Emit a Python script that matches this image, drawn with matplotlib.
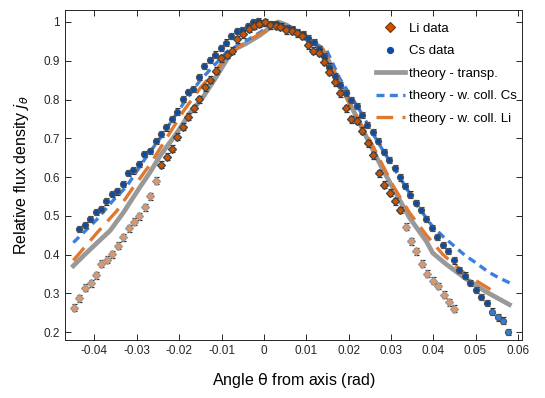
import matplotlib
matplotlib.use("Agg")
import matplotlib.pyplot as plt
import numpy as np

plt.rcParams["font.family"] = ["Liberation Sans", "DejaVu Sans"]

# Li data (angle in rad, relative flux)
li_theta = [-0.0448, -0.0436, -0.0422, -0.0409, -0.0396, -0.0384, -0.0370, -0.0358, -0.0345, -0.0333,
            -0.0319, -0.0307, -0.0294, -0.0281, -0.0268, -0.0255, -0.0242, -0.0229, -0.0217, -0.0204,
            -0.0191, -0.0179, -0.0165, -0.0153, -0.0140, -0.0127, -0.0114, -0.0101, -0.0088, -0.0075,
            -0.0063, -0.0050, -0.0036, -0.0024, -0.0012, 0.0002, 0.0014, 0.0028, 0.0039, 0.0052,
            0.0066, 0.0079, 0.0091, 0.0104, 0.0116, 0.0130, 0.0142, 0.0154, 0.0167, 0.0181,
            0.0193, 0.0207, 0.0219, 0.0232, 0.0245, 0.0258, 0.0271, 0.0284, 0.0297, 0.0310,
            0.0321, 0.0335, 0.0347, 0.0360, 0.0373, 0.0386, 0.0399, 0.0412, 0.0425, 0.0437, 0.0450]
li_flux = [0.263, 0.287, 0.314, 0.326, 0.347, 0.377, 0.387, 0.401, 0.423, 0.445,
           0.468, 0.485, 0.499, 0.522, 0.550, 0.590, 0.632, 0.652, 0.673, 0.704,
           0.730, 0.756, 0.778, 0.801, 0.831, 0.851, 0.874, 0.906, 0.915, 0.926,
           0.955, 0.968, 0.982, 0.990, 0.995, 0.999, 0.992, 0.990, 0.988, 0.979,
           0.977, 0.971, 0.964, 0.940, 0.926, 0.921, 0.898, 0.872, 0.844, 0.816,
           0.778, 0.749, 0.745, 0.719, 0.687, 0.656, 0.610, 0.580, 0.560, 0.537,
           0.515, 0.472, 0.434, 0.409, 0.376, 0.350, 0.333, 0.319, 0.296, 0.277, 0.260]

# Cs data
cs_theta = [-0.0436, -0.0423, -0.0410, -0.0397, -0.0384, -0.0372, -0.0359, -0.0347, -0.0333, -0.0322,
            -0.0308, -0.0295, -0.0282, -0.0269, -0.0255, -0.0243, -0.0230, -0.0217, -0.0204, -0.0192,
            -0.0179, -0.0167, -0.0153, -0.0141, -0.0128, -0.0115, -0.0102, -0.0090, -0.0077, -0.0064,
            -0.0051, -0.0038, -0.0025, -0.0013, 0.0001, 0.0014, 0.0027, 0.0040, 0.0054, 0.0066,
            0.0079, 0.0092, 0.0105, 0.0118, 0.0130, 0.0142, 0.0155, 0.0167, 0.0179, 0.0193,
            0.0205, 0.0219, 0.0231, 0.0244, 0.0257, 0.0270, 0.0283, 0.0296, 0.0309, 0.0321,
            0.0333, 0.0346, 0.0359, 0.0372, 0.0384, 0.0398, 0.0410, 0.0424, 0.0436, 0.0449,
            0.0462, 0.0475, 0.0488, 0.0500, 0.0513, 0.0526, 0.0539, 0.0552, 0.0564, 0.0576]
cs_flux = [0.466, 0.476, 0.492, 0.509, 0.517, 0.537, 0.556, 0.563, 0.582, 0.610,
           0.617, 0.634, 0.660, 0.668, 0.692, 0.711, 0.728, 0.750, 0.769, 0.802,
           0.819, 0.827, 0.859, 0.887, 0.901, 0.916, 0.932, 0.947, 0.964, 0.977,
           0.978, 0.990, 1.000, 1.003, 0.998, 0.995, 0.995, 0.990, 0.984, 0.982,
           0.975, 0.968, 0.958, 0.948, 0.930, 0.912, 0.885, 0.861, 0.838, 0.816,
           0.799, 0.784, 0.760, 0.735, 0.716, 0.693, 0.664, 0.644, 0.624, 0.599,
           0.576, 0.555, 0.533, 0.514, 0.492, 0.469, 0.445, 0.425, 0.409, 0.385,
           0.361, 0.346, 0.327, 0.309, 0.290, 0.276, 0.253, 0.238, 0.230, 0.200]

# theory curves
tr_theta = [-0.0450, -0.0426, -0.0403, -0.0363, -0.0332, -0.0316, -0.0292, -0.0269, -0.0245, -0.0206,
            -0.0175, -0.0143, -0.0112, -0.0088, -0.0072, -0.0041, -0.0009, 0.0014, 0.0034, 0.0054,
            0.0101, 0.0132, 0.0148, 0.0203, 0.0242, 0.0281, 0.0313, 0.0344, 0.0384, 0.0399,
            0.0431, 0.0478, 0.0525, 0.0580]
tr_flux = [0.371, 0.397, 0.421, 0.462, 0.508, 0.535, 0.575, 0.612, 0.655, 0.713,
           0.765, 0.807, 0.859, 0.902, 0.928, 0.945, 0.966, 0.985, 1.000, 0.992,
           0.958, 0.936, 0.911, 0.790, 0.704, 0.619, 0.556, 0.495, 0.434, 0.404,
           0.375, 0.337, 0.304, 0.271]

cs_th_theta = [-0.0450, -0.0395, -0.0355, -0.0324, -0.0277, -0.0245, -0.0190, -0.0150, -0.0120, -0.0085,
               -0.0025, 0.0006, 0.0030, 0.0060, 0.0116, 0.0148, 0.0179, 0.0226, 0.0266, 0.0305,
               0.0360, 0.0396, 0.0423, 0.0474, 0.0502, 0.0529, 0.0557, 0.0583]
cs_th_flux = [0.431, 0.490, 0.541, 0.576, 0.653, 0.700, 0.790, 0.850, 0.885, 0.925,
              0.962, 0.984, 0.995, 0.978, 0.945, 0.928, 0.855, 0.773, 0.696, 0.627,
              0.530, 0.476, 0.447, 0.399, 0.378, 0.356, 0.339, 0.326]

li_th_theta = [-0.0450, -0.0395, -0.0347, -0.0308, -0.0269, -0.0230, -0.0190, -0.0150, -0.0110, -0.0080,
               -0.0040, 0.0000, 0.0030, 0.0060, 0.0100, 0.0140, 0.0180, 0.0220, 0.0260, 0.0305,
               0.0344, 0.0384, 0.0423, 0.0478, 0.0541, 0.0553]
li_th_flux = [0.385, 0.455, 0.513, 0.574, 0.632, 0.700, 0.770, 0.830, 0.880, 0.920,
              0.950, 0.975, 0.995, 0.985, 0.960, 0.930, 0.840, 0.755, 0.675, 0.578,
              0.508, 0.450, 0.400, 0.348, 0.306, 0.301]

LI_C, LI_FAINT = "#cc5200", "#e39563"
CS_C, CS_FAINT = "#0c4ca3", "#2d7ee0"

fig = plt.figure(figsize=(5.45, 3.98), dpi=100)
ax = fig.add_axes([0.119, 0.146, 0.839, 0.829])

ax.plot(tr_theta, tr_flux, color="#999999", lw=3.4, label="theory - transp.", zorder=2)
ax.plot(cs_th_theta, cs_th_flux, color="#3b80e0", lw=2.4, ls=(0, (2.4, 1.6)),
        label="theory - w. coll. Cs", zorder=2)
ax.plot(li_th_theta, li_th_flux, color="#e07830", lw=2.4, ls=(0, (5, 2.8)),
        label="theory - w. coll. Li", zorder=2)

li_t, li_f = np.array(li_theta), np.array(li_flux)
cs_t, cs_f = np.array(cs_theta), np.array(cs_flux)
li_faint = (li_f < 0.6) & (np.abs(li_t) > 0.02) & ~((li_t > 0) & (li_t < 0.033))
cs_faint = cs_t > 0.053

for mask, col, ec in [(~li_faint, LI_C, "#444444"), (li_faint, LI_FAINT, "#9a9a9a")]:
    ax.errorbar(li_t[mask], li_f[mask], yerr=0.009, fmt="D", ms=4.2, mfc=col, mec=ec,
                mew=0.9, ecolor="#333333", elinewidth=0.7, capsize=1.8, capthick=0.7, zorder=4)
for mask, col in [(~cs_faint, CS_C), (cs_faint, CS_FAINT)]:
    ax.errorbar(cs_t[mask], cs_f[mask], yerr=0.008, fmt="o", ms=4.4, mfc=col, mec="#555555",
                mew=0.8, ecolor="#333333", elinewidth=0.7, capsize=1.8, capthick=0.7, zorder=3)

# legend proxies
h_li, = ax.plot([], [], "D", ms=4.6, mfc=LI_C, mec="#7a3000", mew=0.8)
h_cs, = ax.plot([], [], "o", ms=4.4, mfc=CS_C, mec=CS_C, mew=0.8)
hl = ax.get_legend_handles_labels()[0][:3]
ax.legend([h_li, h_cs] + hl, ["Li data", "Cs data", "theory - transp.", "theory - w. coll. Cs",
                              "theory - w. coll. Li"],
          loc="upper right", frameon=False, fontsize=9.5, handlelength=2.2, handletextpad=0.3,
          labelspacing=0.78, borderaxespad=0.3, bbox_to_anchor=(1.008, 0.99))

ax.set_xlim(-0.047, 0.061)
ax.set_ylim(0.18, 1.031)
ax.set_xticks([-0.04, -0.03, -0.02, -0.01, 0, 0.01, 0.02, 0.03, 0.04, 0.05, 0.06])
ax.set_xticklabels(["-0.04", "-0.03", "-0.02", "-0.01", "0", "0.01", "0.02", "0.03", "0.04", "0.05", "0.06"])
ax.set_yticks([0.2, 0.3, 0.4, 0.5, 0.6, 0.7, 0.8, 0.9, 1.0])
ax.set_yticklabels(["0.2", "0.3", "0.4", "0.5", "0.6", "0.7", "0.8", "0.9", "1"])
ax.tick_params(direction="in", top=True, right=True, labelsize=8.5, length=4, width=0.7,
               colors="#262626")
for s in ax.spines.values():
    s.set_color("#262626")
    s.set_linewidth(0.7)

ax.set_xlabel(r"Angle $\mathrm{\theta}$ from axis (rad)", fontsize=11.5, labelpad=10)
ax.set_ylabel(r"Relative flux density $j_\theta$", fontsize=11.5, labelpad=9)

fig.savefig("out.png", dpi=100, facecolor="white")
